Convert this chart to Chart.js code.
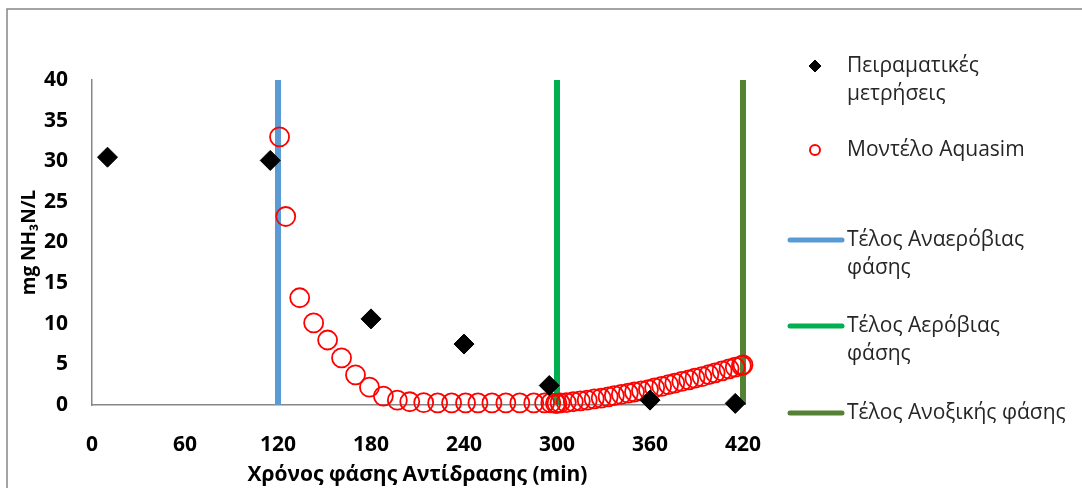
<!DOCTYPE html>
<html>
<head>
<meta charset="utf-8">
<script src="https://cdn.jsdelivr.net/npm/chart.js@4.4.1/dist/chart.umd.min.js"></script>
<style>
  html, body { margin: 0; padding: 0; background: #fff; }
  canvas { display: block; }
</style>
</head>
<body>
<canvas id="nh3Chart" width="1082" height="488"></canvas>
<script>
// Πειραματικές μετρήσεις (min, mg/L)
const expTime = [10, 115, 180, 240, 295, 360, 415];
const expNH3 = [30.5, 30.1, 10.6, 7.5, 2.4, 0.6, 0.2];

// Έξοδος μοντέλου Aquasim
const modelTime = [121, 125, 134, 143, 152, 161, 170, 179, 188, 197, 205, 214, 223, 232, 241, 249, 258, 267, 276, 285,
    292, 296, 299, 300, 302, 306, 310.5, 315, 319.5, 324, 328.5, 333, 337, 341.5, 346, 350, 354.5, 359, 363, 367.5,
    372, 376, 380.5, 385, 389, 393.5, 398, 402, 406.5, 411, 415, 419, 420];
const modelNH3 = [33.0, 23.2, 13.2, 10.1, 8.0, 5.8, 3.7, 2.2, 1.1, 0.6, 0.4, 0.3, 0.25, 0.25, 0.25, 0.25, 0.25, 0.25, 0.25, 0.25,
    0.25, 0.25, 0.2, 0.2, 0.25, 0.3, 0.4, 0.5, 0.6, 0.75, 0.85, 1.0, 1.15, 1.3, 1.45, 1.6, 1.75, 1.9, 2.1, 2.3,
    2.5, 2.7, 2.9, 3.1, 3.3, 3.5, 3.75, 3.95, 4.2, 4.45, 4.65, 4.85, 4.95];

// Τέλος φάσεων (min)
const phaseEnds = [120, 300, 420];
const phaseNames = ['Τέλος Αναερόβιας φάσης', 'Τέλος Αερόβιας φάσης', 'Τέλος Ανοξικής φάσης'];
const phaseColors = ['#5B9BD5', '#00B050', '#548235'];

const xTicks = [0, 60, 120, 180, 240, 300, 360, 420];
const yMin = 0, yMax = 40, yStep = 5;

const FONT = "'Open Sans', 'DejaVu Sans', sans-serif";

const datasets = [{
    label: 'Πειραματικές μετρήσεις',
    data: expTime.map((t, i) => ({ x: t, y: expNH3[i] })),
    pointStyle: 'rectRot',
    pointRadius: 10,
    backgroundColor: '#000000',
    borderColor: '#000000',
    borderWidth: 1,
    showLine: false,
    clip: false
}, {
    label: 'Μοντέλο Aquasim',
    data: modelTime.map((t, i) => ({ x: t, y: modelNH3[i] })),
    pointStyle: 'circle',
    pointRadius: 9.5,
    backgroundColor: 'rgba(0,0,0,0)',
    borderColor: '#FF0000',
    borderWidth: 1.8,
    showLine: false,
    clip: false
}];

phaseEnds.forEach((t, i) => {
    datasets.push({
        label: phaseNames[i],
        data: [{ x: t, y: yMin }, { x: t, y: yMax }],
        showLine: true,
        borderColor: phaseColors[i],
        backgroundColor: phaseColors[i],
        borderWidth: 6,
        pointRadius: 0,
        clip: false
    });
});

// Γραμμές υπομνήματος (αναδιπλωμένες όπως στο Excel)
const legendLines = [
    ['Πειραματικές', 'μετρήσεις'],
    ['Μοντέλο Aquasim'],
    ['Τέλος Αναερόβιας', 'φάσης'],
    ['Τέλος Αερόβιας', 'φάσης'],
    ['Τέλος Ανοξικής φάσης']
];
const legendY = [66, 150, 240, 326, 413];

const frameAndLegend = {
    id: 'frameAndLegend',
    beforeDraw(chart) {
        const ctx = chart.ctx;
        ctx.save();
        ctx.fillStyle = '#fff';
        ctx.fillRect(0, 0, chart.width, chart.height);
        ctx.strokeStyle = '#868686';
        ctx.lineWidth = 1.5;
        ctx.strokeRect(7, 9, chart.width + 20, chart.height + 20);
        ctx.restore();
    },
    afterDraw(chart) {
        const ctx = chart.ctx;
        const markX = 815, textX = 847;
        ctx.save();
        ctx.font = '21px ' + FONT;
        ctx.textBaseline = 'middle';
        ctx.textAlign = 'left';
        chart.data.datasets.forEach((ds, i) => {
            const y = legendY[i];
            if (ds.showLine) {
                ctx.strokeStyle = ds.borderColor;
                ctx.lineWidth = 5;
                ctx.lineCap = 'round';
                ctx.beginPath();
                ctx.moveTo(790, y);
                ctx.lineTo(842, y);
                ctx.stroke();
            } else {
                const isCircle = ds.pointStyle === 'circle';
                ctx.fillStyle = ds.backgroundColor;
                ctx.strokeStyle = ds.borderColor;
                ctx.lineWidth = isCircle ? 2 : 1;
                Chart.helpers.drawPoint(ctx, {
                    pointStyle: ds.pointStyle,
                    radius: isCircle ? 5 : 6,
                    borderWidth: isCircle ? 2 : 1,
                    rotation: 0
                }, markX, y);
            }
            ctx.fillStyle = '#262626';
            legendLines[i].forEach((line, k) => {
                ctx.fillText(line, textX, y + k * 28);
            });
        });
        ctx.restore();
    }
};

new Chart(document.getElementById('nh3Chart').getContext('2d'), {
    type: 'scatter',
    data: { datasets: datasets },
    options: {
        responsive: false,
        animation: false,
        layout: { padding: { left: 18, right: 339, top: 80, bottom: 0 } },
        plugins: { legend: { display: false }, tooltip: { enabled: false } },
        scales: {
            x: {
                type: 'linear',
                min: 0,
                max: 420,
                afterBuildTicks: (scale) => { scale.ticks = xTicks.map(v => ({ value: v })); },
                afterFit: (scale) => { scale.height = 83; },
                grid: { color: 'rgba(0,0,0,0)', drawTicks: false },
                border: { color: '#868686', width: 1.5 },
                ticks: {
                    color: '#000',
                    padding: 27,
                    maxRotation: 0,
                    font: { family: FONT, size: 21, weight: 'bold' }
                },
                title: {
                    display: true,
                    text: 'Χρόνος φάσης Αντίδρασης (min)',
                    color: '#000',
                    padding: 0,
                    font: { family: FONT, size: 21, weight: 'bold' }
                }
            },
            y: {
                min: yMin,
                max: yMax,
                afterFit: (scale) => { scale.width = 74; },
                grid: { color: 'rgba(0,0,0,0)', drawTicks: false },
                border: { color: '#868686', width: 1.5 },
                ticks: {
                    stepSize: yStep,
                    color: '#000',
                    padding: 24,
                    font: { family: FONT, size: 21, weight: 'bold' }
                },
                title: {
                    display: true,
                    text: 'mg NH₃N/L',
                    color: '#000',
                    padding: 0,
                    font: { family: FONT, size: 19, weight: 'bold' }
                }
            }
        }
    },
    plugins: [frameAndLegend]
});
</script>
</body>
</html>
